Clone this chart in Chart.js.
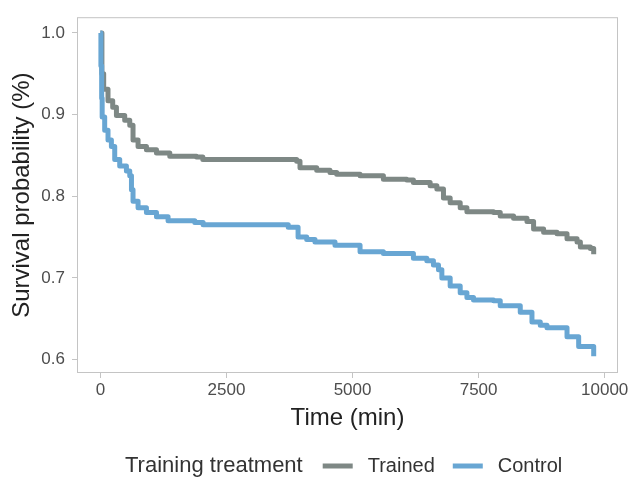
<!DOCTYPE html>
<html>
<head>
<meta charset="utf-8">
<script src="https://cdn.jsdelivr.net/npm/chart.js@4/dist/chart.umd.min.js"></script>
<style>
  html, body { margin: 0; padding: 0; background: #fff; }
  #wrap { width: 634px; height: 478px; position: relative; }
</style>
</head>
<body>
<div id="wrap"><canvas id="km-chart" width="634" height="478"></canvas></div>
<script>
// survival curves (time in min, survival probability)
const trainedTime = [0, 30, 65, 151, 244, 318, 482, 582, 647, 747, 913, 1112, 1376, 1906, 2031, 3892, 3958, 4289, 4553, 4686, 5149, 5612, 6076, 6207, 6539, 6672, 6803, 6936, 7135, 7268, 7796, 7929, 8193, 8459, 8590, 8789, 9055, 9253, 9452, 9518, 9716, 9782];
const trainedSurv = [1.0, 0.95, 0.931, 0.917, 0.909, 0.899, 0.893, 0.887, 0.869, 0.861, 0.857, 0.853, 0.849, 0.848, 0.845, 0.843, 0.835, 0.832, 0.829, 0.827, 0.825, 0.821, 0.820, 0.817, 0.813, 0.809, 0.798, 0.792, 0.786, 0.781, 0.780, 0.776, 0.773, 0.769, 0.760, 0.756, 0.754, 0.748, 0.744, 0.738, 0.736, 0.729];

const controlTime = [0, 10, 25, 35, 85, 151, 218, 284, 383, 516, 582, 616, 647, 747, 913, 1112, 1342, 1872, 2037, 3725, 3920, 4091, 4255, 4652, 5149, 5612, 6207, 6473, 6604, 6704, 6771, 6936, 7135, 7268, 7399, 7796, 7929, 8326, 8558, 8723, 8856, 9253, 9484, 9782];
const controlSurv = [1.0, 0.96, 0.92, 0.897, 0.881, 0.869, 0.861, 0.845, 0.837, 0.831, 0.825, 0.808, 0.794, 0.786, 0.780, 0.775, 0.770, 0.768, 0.765, 0.762, 0.750, 0.747, 0.744, 0.740, 0.732, 0.730, 0.724, 0.721, 0.716, 0.710, 0.700, 0.690, 0.682, 0.676, 0.673, 0.672, 0.666, 0.658, 0.646, 0.642, 0.639, 0.628, 0.616, 0.604];

const xTicks = [0, 2500, 5000, 7500, 10000];
const yTicks = [0.6, 0.7, 0.8, 0.9, 1.0];

const groupNames = ['Trained', 'Control'];
const legendTitle = 'Training treatment';

const GRAY = '#7e8885';
const BLUE = '#68a6d3';
const FONT = "'Liberation Sans', Arial, sans-serif";

function toPoints(times, values) {
  return times.map((t, i) => ({ x: t, y: values[i] }));
}

// grey border all round the panel
const panelBorder = {
  id: 'panelBorder',
  afterDatasetsDraw(chart) {
    const { ctx, chartArea: a } = chart;
    ctx.save();
    ctx.strokeStyle = '#c4c4c4';
    ctx.lineWidth = 1;
    ctx.strokeRect(a.left + 0.5, a.top + 0.5, a.right - a.left - 1, a.bottom - a.top - 1);
    ctx.restore();
  }
};

// ggplot style legend: title on the left, keys in one row
const bottomLegend = {
  id: 'bottomLegend',
  afterDraw(chart) {
    const ctx = chart.ctx;
    const y = 466;
    ctx.save();
    ctx.textBaseline = 'middle';
    ctx.textAlign = 'left';
    ctx.fillStyle = '#333';
    ctx.font = '22px ' + FONT;
    let x = 125;
    ctx.fillText(legendTitle, x, y);
    x += ctx.measureText(legendTitle).width + 20;
    ctx.font = '20px ' + FONT;
    chart.data.datasets.forEach(ds => {
      ctx.strokeStyle = ds.borderColor;
      ctx.lineWidth = 5;
      ctx.beginPath();
      ctx.moveTo(x, y);
      ctx.lineTo(x + 30, y);
      ctx.stroke();
      x += 45;
      ctx.fillStyle = '#333';
      ctx.fillText(ds.label, x, y);
      x += ctx.measureText(ds.label).width + 18;
    });
    ctx.restore();
  }
};

const ctx = document.getElementById('km-chart');

const config = {
  type: 'line',
  data: {
    datasets: [
      {
        label: groupNames[0],
        data: toPoints(trainedTime, trainedSurv),
        borderColor: GRAY,
        borderWidth: 5,
        borderJoinStyle: 'round',
        stepped: 'before',
        pointRadius: 0,
        fill: false,
        order: 1
      },
      {
        label: groupNames[1],
        data: toPoints(controlTime, controlSurv),
        borderColor: BLUE,
        borderWidth: 5,
        borderJoinStyle: 'round',
        stepped: 'before',
        pointRadius: 0,
        fill: false,
        order: 0
      }
    ]
  },
  options: {
    responsive: false,
    animation: false,
    layout: { padding: { top: 12, right: 16, bottom: 45, left: 0 } },
    plugins: {
      legend: { display: false },
      tooltip: { enabled: false }
    },
    scales: {
      x: {
        type: 'linear',
        min: -464,
        max: 10264,
        afterBuildTicks: s => { s.ticks = xTicks.map(v => ({ value: v })); },
        afterFit: s => { s.height = 60; },
        grid: { drawOnChartArea: false, drawTicks: true, tickLength: 5, color: '#c4c4c4' },
        border: { display: false },
        ticks: { color: '#4d4d4d', font: { size: 17, family: FONT }, padding: 2, maxRotation: 0, callback: v => String(v) },
        title: { display: true, text: 'Time (min)', color: '#222', font: { size: 24, family: FONT }, padding: { top: 0, bottom: 0 } }
      },
      y: {
        min: 0.5836,
        max: 1.0193,
        afterBuildTicks: s => { s.ticks = yTicks.map(v => ({ value: v })); },
        afterFit: s => { s.width = 77; },
        grid: { drawOnChartArea: false, drawTicks: true, tickLength: 5, color: '#c4c4c4' },
        border: { display: false },
        ticks: { color: '#4d4d4d', font: { size: 17, family: FONT }, padding: 7, callback: v => v.toFixed(1) },
        title: { display: true, text: 'Survival probability (%)', color: '#222', font: { size: 24, family: FONT }, padding: { top: 8, bottom: 0 } }
      }
    }
  },
  plugins: [panelBorder, bottomLegend]
};

const chartInstance = new Chart(ctx, config);
</script>
</body>
</html>
